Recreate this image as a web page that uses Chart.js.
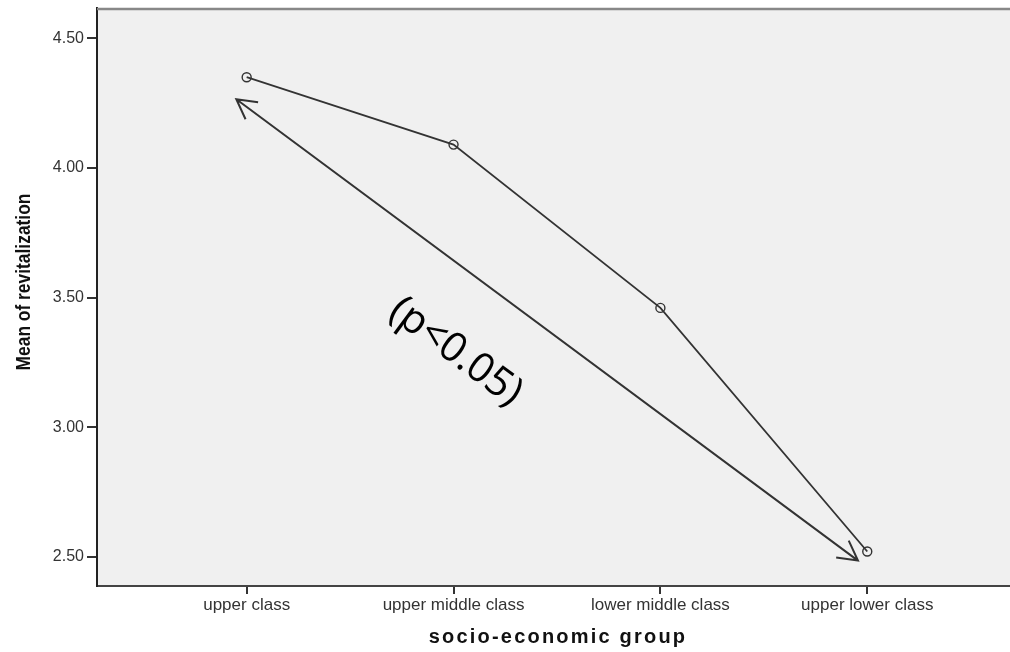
<!DOCTYPE html>
<html>
<head>
<meta charset="utf-8">
<script src="https://cdn.jsdelivr.net/npm/chart.js@4.4.1/dist/chart.umd.min.js"></script>
<style>
  html, body { margin: 0; padding: 0; background: #fff; }
  #wrap { width: 1010px; height: 652px; }
</style>
</head>
<body>
<div id="wrap"><canvas id="grafica"></canvas></div>
<script>
// socio-economic groups and mean revitalization score
const categories = ['upper class', 'upper middle class', 'lower middle class', 'upper lower class'];
const means = [4.35, 4.09, 3.46, 2.52];
const yTicks = [2.50, 3.00, 3.50, 4.00, 4.50];

// annotation: double arrow and p-value label (in data units)
const arrowFrom = { x: -0.05, y: 4.265 };
const arrowTo = { x: 2.955, y: 2.485 };
const pLabel = { x: 1.01, y: 3.29, text: '(p<0.05)' };

const noPad = s => { s.paddingTop = 0; s.paddingBottom = 0; s.paddingLeft = 0; s.paddingRight = 0; };

const extras = {
  id: 'extras',
  beforeDraw(chart) {
    const { ctx, chartArea: a } = chart;
    ctx.save();
    ctx.fillStyle = '#f0f0f0';
    ctx.fillRect(a.left, a.top, a.right - a.left, a.bottom - a.top);
    ctx.restore();
  },
  afterDraw(chart) {
    const { ctx, chartArea: a, scales: { x, y } } = chart;
    ctx.save();
    // top frame line
    ctx.strokeStyle = '#888';
    ctx.lineWidth = 2.5;
    ctx.beginPath();
    ctx.moveTo(a.left, a.top + 1);
    ctx.lineTo(a.right, a.top + 1);
    ctx.stroke();

    // double-headed arrow
    const x1 = x.getPixelForValue(arrowFrom.x), y1 = y.getPixelForValue(arrowFrom.y);
    const x2 = x.getPixelForValue(arrowTo.x), y2 = y.getPixelForValue(arrowTo.y);
    ctx.strokeStyle = '#333';
    ctx.lineWidth = 2;
    ctx.beginPath();
    ctx.moveTo(x1, y1);
    ctx.lineTo(x2, y2);
    const ang = Math.atan2(y2 - y1, x2 - x1);
    const head = 22, spread = 0.5;
    [[x1, y1, ang], [x2, y2, ang + Math.PI]].forEach(([px, py, t]) => {
      ctx.moveTo(px + head * Math.cos(t - spread), py + head * Math.sin(t - spread));
      ctx.lineTo(px, py);
      ctx.lineTo(px + head * Math.cos(t + spread), py + head * Math.sin(t + spread));
    });
    ctx.stroke();

    // p-value text
    ctx.translate(x.getPixelForValue(pLabel.x), y.getPixelForValue(pLabel.y));
    ctx.rotate(ang);
    ctx.fillStyle = '#000';
    ctx.font = '41px "Open Sans"';
    ctx.textAlign = 'center';
    ctx.textBaseline = 'middle';
    ctx.fillText(pLabel.text, 0, 0);
    ctx.restore();

    // axis titles
    ctx.save();
    ctx.fillStyle = '#111';
    ctx.font = 'bold 20px "Liberation Sans", Arial';
    ctx.letterSpacing = '2.2px';
    ctx.textAlign = 'center';
    ctx.textBaseline = 'alphabetic';
    ctx.fillText('socio-economic group', 558, 643);
    ctx.restore();

    ctx.save();
    ctx.fillStyle = '#111';
    ctx.translate(30, 282);
    ctx.rotate(-Math.PI / 2);
    ctx.scale(0.87, 1);
    ctx.font = 'bold 20px "Liberation Sans", Arial';
    ctx.textAlign = 'center';
    ctx.textBaseline = 'alphabetic';
    ctx.fillText('Mean of revitalization', 0, 0);
    ctx.restore();
  }
};

const ctx = document.getElementById('grafica').getContext('2d');
new Chart(ctx, {
  type: 'line',
  data: {
    datasets: [{
      label: 'Mean of revitalization',
      data: means.map((v, i) => ({ x: i, y: v })),
      borderColor: '#333',
      borderWidth: 1.8,
      pointRadius: 4.5,
      pointBorderWidth: 1.4,
      pointBorderColor: '#333',
      pointBackgroundColor: 'rgba(0,0,0,0)',
      tension: 0
    }]
  },
  options: {
    responsive: true,
    maintainAspectRatio: false,
    animation: false,
    layout: { autoPadding: false, padding: { top: 8, right: 0, left: 0, bottom: 0 } },
    plugins: {
      legend: { display: false },
      tooltip: { enabled: false }
    },
    scales: {
      x: {
        type: 'linear',
        min: -0.7235,
        max: 3.69,
        afterBuildTicks: s => { s.ticks = categories.map((c, i) => ({ value: i })); },
        afterFit: s => { s.height = 66; noPad(s); },
        ticks: {
          callback: v => categories[v],
          color: '#333',
          font: { family: '"Liberation Sans", Arial', size: 17 },
          padding: 1,
          maxRotation: 0,
          autoSkip: false
        },
        grid: { drawOnChartArea: false, drawTicks: true, tickLength: 8, color: '#333', lineWidth: 2 },
        border: { display: true, color: '#444', width: 2 }
      },
      y: {
        min: 2.387,
        max: 4.617,
        afterBuildTicks: s => { s.ticks = yTicks.map(v => ({ value: v })); },
        afterFit: s => { s.width = 97; noPad(s); },
        ticks: {
          callback: v => v.toFixed(2),
          color: '#333',
          font: { family: '"Liberation Sans", Arial', size: 16 },
          padding: 3
        },
        grid: { drawOnChartArea: false, drawTicks: true, tickLength: 10, color: '#333', lineWidth: 2 },
        border: { display: true, color: '#222', width: 2 }
      }
    }
  },
  plugins: [extras]
});
</script>
</body>
</html>
